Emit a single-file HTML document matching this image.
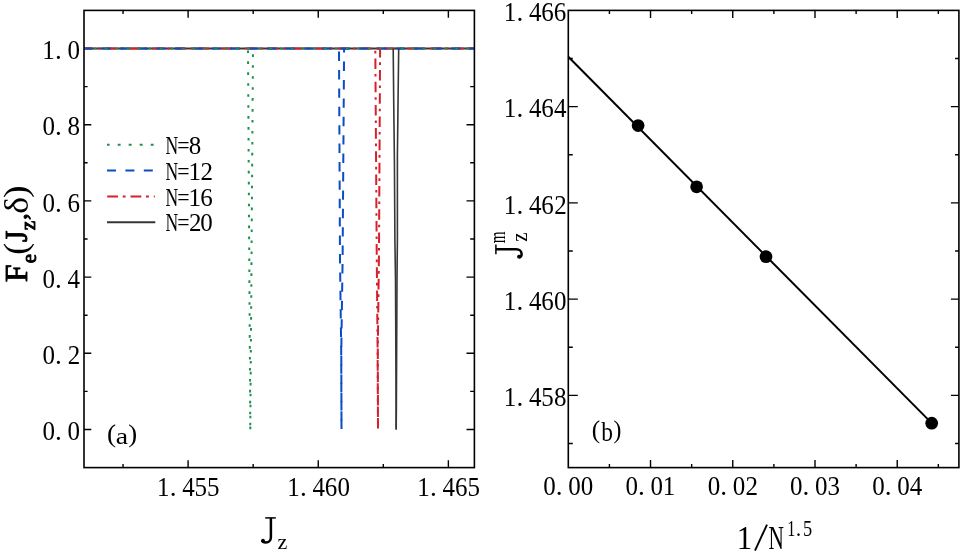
<!DOCTYPE html>
<html><head><meta charset="utf-8"><style>
html,body{margin:0;padding:0;background:#fff;}
svg{display:block;will-change:transform;}
text{font-family:"Liberation Serif",serif;fill:#000;}
</style></head><body>
<svg width="963" height="556" viewBox="0 0 963 556">
<rect width="963" height="556" fill="#fff"/>
<path d="M188.11,467.6v-7.3M188.11,10.4v7.3M318.24,467.6v-7.3M318.24,10.4v7.3M448.37,467.6v-7.3M448.37,10.4v7.3M123.04,467.6v-3.5M123.04,10.4v3.5M253.17,467.6v-3.5M253.17,10.4v3.5M383.31,467.6v-3.5M383.31,10.4v3.5M84.0,429.50h7.3M84.0,353.30h7.3M84.0,277.10h7.3M84.0,200.90h7.3M84.0,124.70h7.3M84.0,48.50h7.3M84.0,391.40h3.6M84.0,315.20h3.6M84.0,239.00h3.6M84.0,162.80h3.6M84.0,86.60h3.6M474.4,429.50h-7.9M474.4,353.30h-7.9M474.4,277.10h-7.9M474.4,200.90h-7.9M474.4,124.70h-7.9M474.4,48.50h-7.9M474.4,391.40h-4.2M474.4,315.20h-4.2M474.4,239.00h-4.2M474.4,162.80h-4.2M474.4,86.60h-4.2" stroke="#000" stroke-width="1.4" fill="none"/>
<path d="M84.0,48.50H474.4" fill="none" stroke="#363636" stroke-width="2.0"/>
<path d="M84.0,48.50H474.4" fill="none" stroke="#d6202c" stroke-width="2.0" stroke-dasharray="10.6 4.9 2.6 5.1" stroke-dashoffset="1.5"/>
<path d="M84.0,48.50H474.4" fill="none" stroke="#0a4cc6" stroke-width="2.0" stroke-dasharray="9.4 9.0" stroke-dashoffset="1.0"/>
<path d="M84.0,48.50H474.4" fill="none" stroke="#1e9050" stroke-width="2.0" stroke-dasharray="2.6 8.35" stroke-dashoffset="0.95"/>
<path d="M393.20,48.50 L393.70,100.00 L394.40,160.00 L394.90,240.00 L395.50,279.00 L396.10,401.00 L396.20,429.50" fill="none" stroke="#363636" stroke-width="1.6"/>
<path d="M398.70,48.50 L398.10,97.00 L397.40,156.00 L397.40,240.00 L397.00,279.00 L396.40,401.00 L396.20,429.50" fill="none" stroke="#363636" stroke-width="1.6"/>
<path d="M375.30,48.50 L376.70,250.00 L377.60,350.00 L378.00,429.50" fill="none" stroke="#d6202c" stroke-width="2.0" stroke-dasharray="10.6 4.9 2.6 5.1" stroke-dashoffset="13.2"/>
<path d="M380.10,48.50 L379.00,250.00 L377.80,350.00 L378.00,429.50" fill="none" stroke="#d6202c" stroke-width="2.0" stroke-dasharray="10.6 4.9 2.6 5.1" stroke-dashoffset="-21.5"/>
<path d="M339.00,48.50 L340.00,260.00 L341.20,350.00 L341.50,429.50" fill="none" stroke="#0a4cc6" stroke-width="2.0" stroke-dasharray="9.4 9.0" stroke-dashoffset="-3.1"/>
<path d="M344.10,48.50 L342.60,260.00 L341.30,350.00 L341.50,429.50" fill="none" stroke="#0a4cc6" stroke-width="2.0" stroke-dasharray="9.4 9.0" stroke-dashoffset="-13.1"/>
<path d="M248.00,48.50 L250.30,429.50" fill="none" stroke="#1e9050" stroke-width="2.0" stroke-dasharray="2.6 8.35" stroke-dashoffset="-1.9"/>
<path d="M253.00,48.50 L250.30,429.50" fill="none" stroke="#1e9050" stroke-width="2.0" stroke-dasharray="2.6 8.35" stroke-dashoffset="-5.8"/>
<rect x="84.0" y="10.4" width="390.40" height="457.20" fill="none" stroke="#000" stroke-width="1.6"/>
<path d="M107.0,144.8H154.8" fill="none" stroke="#1e9050" stroke-width="2.0" stroke-dasharray="2.9 8.1" stroke-dashoffset="0.3"/>
<path d="M107.0,170.5H154.8" fill="none" stroke="#0a4cc6" stroke-width="2.0" stroke-dasharray="9 9.4" stroke-dashoffset="0"/>
<path d="M107.0,196.4H154.8" fill="none" stroke="#d6202c" stroke-width="2.0" stroke-dasharray="10.8 4.7 2.9 4.9" stroke-dashoffset="-0.2"/>
<path d="M107.0,222.2H155.3" fill="none" stroke="#363636" stroke-width="2.0"/>
<text transform="translate(165.45,153.70) scale(0.690,1)" font-size="25.50">N</text>
<text transform="translate(177.25,153.70) scale(0.860,1)" font-size="25.50">=</text>
<text transform="translate(188.75,153.70) scale(0.980,1)" font-size="25.50">8</text>
<text transform="translate(165.45,179.60) scale(0.690,1)" font-size="25.50">N</text>
<text transform="translate(177.25,179.60) scale(0.860,1)" font-size="25.50">=</text>
<text transform="translate(188.40,179.60) scale(0.980,1)" font-size="25.50">1</text>
<text transform="translate(200.49,179.60) scale(0.980,1)" font-size="25.50">2</text>
<text transform="translate(165.45,205.50) scale(0.690,1)" font-size="25.50">N</text>
<text transform="translate(177.25,205.50) scale(0.860,1)" font-size="25.50">=</text>
<text transform="translate(188.40,205.50) scale(0.980,1)" font-size="25.50">1</text>
<text transform="translate(200.19,205.50) scale(0.980,1)" font-size="25.50">6</text>
<text transform="translate(165.45,231.40) scale(0.690,1)" font-size="25.50">N</text>
<text transform="translate(177.25,231.40) scale(0.860,1)" font-size="25.50">=</text>
<text transform="translate(188.89,231.40) scale(0.980,1)" font-size="25.50">2</text>
<text transform="translate(200.35,231.40) scale(0.980,1)" font-size="25.50">0</text>
<text transform="translate(107.00,441.89) scale(1.093,1)" font-size="24.92">(</text>
<text transform="translate(115.73,444.47) scale(1.191,1)" font-size="23.38">a</text>
<text transform="translate(128.14,441.89) scale(1.077,1)" font-size="24.92">)</text>
<text transform="translate(42.59,440.10) scale(0.920,1)" font-size="27.20">0</text><text transform="translate(55.00,440.10)" font-size="27.20">.</text><text transform="translate(67.59,440.10) scale(0.920,1)" font-size="27.20">0</text>
<text transform="translate(42.59,363.90) scale(0.920,1)" font-size="27.20">0</text><text transform="translate(55.00,363.90)" font-size="27.20">.</text><text transform="translate(67.73,363.90) scale(0.920,1)" font-size="27.20">2</text>
<text transform="translate(42.59,287.70) scale(0.920,1)" font-size="27.20">0</text><text transform="translate(55.00,287.70)" font-size="27.20">.</text><text transform="translate(67.54,287.70) scale(0.920,1)" font-size="27.20">4</text>
<text transform="translate(42.59,211.50) scale(0.920,1)" font-size="27.20">0</text><text transform="translate(55.00,211.50)" font-size="27.20">.</text><text transform="translate(67.43,211.50) scale(0.920,1)" font-size="27.20">6</text>
<text transform="translate(42.59,135.30) scale(0.920,1)" font-size="27.20">0</text><text transform="translate(55.00,135.30)" font-size="27.20">.</text><text transform="translate(67.59,135.30) scale(0.920,1)" font-size="27.20">8</text>
<text transform="translate(42.24,59.10) scale(0.920,1)" font-size="27.20">1</text><text transform="translate(55.00,59.10)" font-size="27.20">.</text><text transform="translate(67.59,59.10) scale(0.920,1)" font-size="27.20">0</text>
<text transform="translate(157.00,496.30) scale(0.920,1)" font-size="27.20">1</text><text transform="translate(169.76,496.30)" font-size="27.20">.</text><text transform="translate(182.30,496.30) scale(0.920,1)" font-size="27.20">4</text><text transform="translate(194.61,496.30) scale(0.920,1)" font-size="27.20">5</text><text transform="translate(207.11,496.30) scale(0.920,1)" font-size="27.20">5</text>
<text transform="translate(287.13,496.30) scale(0.920,1)" font-size="27.20">1</text><text transform="translate(299.89,496.30)" font-size="27.20">.</text><text transform="translate(312.43,496.30) scale(0.920,1)" font-size="27.20">4</text><text transform="translate(324.82,496.30) scale(0.920,1)" font-size="27.20">6</text><text transform="translate(337.48,496.30) scale(0.920,1)" font-size="27.20">0</text>
<text transform="translate(417.27,496.30) scale(0.920,1)" font-size="27.20">1</text><text transform="translate(430.03,496.30)" font-size="27.20">.</text><text transform="translate(442.57,496.30) scale(0.920,1)" font-size="27.20">4</text><text transform="translate(454.95,496.30) scale(0.920,1)" font-size="27.20">6</text><text transform="translate(467.38,496.30) scale(0.920,1)" font-size="27.20">5</text>
<path d="M265.2,517.9H275.8" stroke="#000" stroke-width="1.5" fill="none"/>
<path d="M270.9,517.9V537.2C270.9,540.6 268.6,542.4 265.9,542.4C263.6,542.4 262.3,541.4 262.1,540.2" stroke="#000" stroke-width="2.5" fill="none"/>
<circle cx="263.0" cy="540.6" r="1.9" fill="#000"/>
<text transform="translate(277.40,548.60) scale(1.057,1)" font-size="20.92">z</text>
<g transform="translate(27,281.8) rotate(-90)"><text transform="translate(-0.49,-0.45)" font-size="32.37" stroke="#000" stroke-width="0.9" stroke-linejoin="round">F</text><text transform="translate(18.54,9.04) scale(1.011,1)" font-size="20.58" stroke="#000" stroke-width="0.9" stroke-linejoin="round">e</text><text transform="translate(27.02,0.03) scale(1.093,1)" font-size="32.75">(</text><text transform="translate(39.73,-0.37) scale(0.926,1)" font-size="31.73" stroke="#000" stroke-width="0.9" stroke-linejoin="round">J</text><text transform="translate(51.47,8.15) scale(1.053,1)" font-size="20.26" stroke="#000" stroke-width="0.9" stroke-linejoin="round">z</text><text transform="translate(61.83,-0.29) scale(1.078,1)" font-size="24.90" stroke="#000" stroke-width="0.9" stroke-linejoin="round">,</text><text transform="translate(68.05,0.96) scale(1.052,1)" font-size="33.85">δ</text><text transform="translate(83.89,0.03) scale(1.153,1)" font-size="32.75">)</text></g>
<path d="M650.53,467.6v-7.5M650.53,10.4v7.5M732.76,467.6v-7.5M732.76,10.4v7.5M814.99,467.6v-7.5M814.99,10.4v7.5M897.23,467.6v-7.5M897.23,10.4v7.5M609.42,467.6v-3.7M609.42,10.4v3.7M691.65,467.6v-3.7M691.65,10.4v3.7M773.88,467.6v-3.7M773.88,10.4v3.7M856.11,467.6v-3.7M856.11,10.4v3.7M938.34,467.6v-3.7M938.34,10.4v3.7M568.3,395.41h9.5M568.3,299.16h9.5M568.3,202.91h9.5M568.3,106.65h9.5M568.3,443.54h4.5M568.3,347.28h4.5M568.3,251.03h4.5M568.3,154.78h4.5M568.3,58.53h4.5M958.9,395.41h-8.0M958.9,299.16h-8.0M958.9,202.91h-8.0M958.9,106.65h-8.0M958.9,443.54h-3.8M958.9,347.28h-3.8M958.9,251.03h-3.8M958.9,154.78h-3.8M958.9,58.53h-3.8" stroke="#000" stroke-width="1.4" fill="none"/>
<path d="M568.3,56.8 L931.7,423.1" stroke="#000" stroke-width="2" fill="none"/>
<rect x="568.3" y="10.4" width="390.60" height="457.20" fill="none" stroke="#000" stroke-width="1.6"/>
<circle cx="638.1" cy="125.6" r="6.35" fill="#000"/>
<circle cx="696.6" cy="186.8" r="6.35" fill="#000"/>
<circle cx="766.0" cy="256.7" r="6.35" fill="#000"/>
<circle cx="931.7" cy="423.2" r="6.35" fill="#000"/>
<text transform="translate(591.79,438.49) scale(1.015,1)" font-size="24.92">(</text>
<text transform="translate(601.20,441.24) scale(0.885,1)" font-size="26.42">b</text>
<text transform="translate(613.44,438.49) scale(0.953,1)" font-size="24.92">)</text>
<text transform="translate(503.64,406.01) scale(0.920,1)" font-size="27.20">1</text><text transform="translate(516.40,406.01)" font-size="27.20">.</text><text transform="translate(528.94,406.01) scale(0.920,1)" font-size="27.20">4</text><text transform="translate(541.26,406.01) scale(0.920,1)" font-size="27.20">5</text><text transform="translate(553.99,406.01) scale(0.920,1)" font-size="27.20">8</text>
<text transform="translate(503.64,309.76) scale(0.920,1)" font-size="27.20">1</text><text transform="translate(516.40,309.76)" font-size="27.20">.</text><text transform="translate(528.94,309.76) scale(0.920,1)" font-size="27.20">4</text><text transform="translate(541.33,309.76) scale(0.920,1)" font-size="27.20">6</text><text transform="translate(553.99,309.76) scale(0.920,1)" font-size="27.20">0</text>
<text transform="translate(503.64,213.51) scale(0.920,1)" font-size="27.20">1</text><text transform="translate(516.40,213.51)" font-size="27.20">.</text><text transform="translate(528.94,213.51) scale(0.920,1)" font-size="27.20">4</text><text transform="translate(541.33,213.51) scale(0.920,1)" font-size="27.20">6</text><text transform="translate(554.13,213.51) scale(0.920,1)" font-size="27.20">2</text>
<text transform="translate(503.64,117.25) scale(0.920,1)" font-size="27.20">1</text><text transform="translate(516.40,117.25)" font-size="27.20">.</text><text transform="translate(528.94,117.25) scale(0.920,1)" font-size="27.20">4</text><text transform="translate(541.33,117.25) scale(0.920,1)" font-size="27.20">6</text><text transform="translate(553.94,117.25) scale(0.920,1)" font-size="27.20">4</text>
<text transform="translate(503.64,21.00) scale(0.920,1)" font-size="27.20">1</text><text transform="translate(516.40,21.00)" font-size="27.20">.</text><text transform="translate(528.94,21.00) scale(0.920,1)" font-size="27.20">4</text><text transform="translate(541.33,21.00) scale(0.920,1)" font-size="27.20">6</text><text transform="translate(553.83,21.00) scale(0.920,1)" font-size="27.20">6</text>
<text transform="translate(543.29,495.30) scale(0.920,1)" font-size="27.20">0</text><text transform="translate(555.70,495.30)" font-size="27.20">.</text><text transform="translate(568.29,495.30) scale(0.920,1)" font-size="27.20">0</text><text transform="translate(580.79,495.30) scale(0.920,1)" font-size="27.20">0</text>
<text transform="translate(625.53,495.30) scale(0.920,1)" font-size="27.20">0</text><text transform="translate(637.94,495.30)" font-size="27.20">.</text><text transform="translate(650.53,495.30) scale(0.920,1)" font-size="27.20">0</text><text transform="translate(662.68,495.30) scale(0.920,1)" font-size="27.20">1</text>
<text transform="translate(707.76,495.30) scale(0.920,1)" font-size="27.20">0</text><text transform="translate(720.17,495.30)" font-size="27.20">.</text><text transform="translate(732.76,495.30) scale(0.920,1)" font-size="27.20">0</text><text transform="translate(745.39,495.30) scale(0.920,1)" font-size="27.20">2</text>
<text transform="translate(789.99,495.30) scale(0.920,1)" font-size="27.20">0</text><text transform="translate(802.40,495.30)" font-size="27.20">.</text><text transform="translate(814.99,495.30) scale(0.920,1)" font-size="27.20">0</text><text transform="translate(827.38,495.30) scale(0.920,1)" font-size="27.20">3</text>
<text transform="translate(872.22,495.30) scale(0.920,1)" font-size="27.20">0</text><text transform="translate(884.63,495.30)" font-size="27.20">.</text><text transform="translate(897.22,495.30) scale(0.920,1)" font-size="27.20">0</text><text transform="translate(909.67,495.30) scale(0.920,1)" font-size="27.20">4</text>
<text transform="translate(736.67,548.60) scale(0.892,1)" font-size="34.70">1</text>
<path d="M755.0,550.6L767.0,524.6" stroke="#000" stroke-width="1.9" fill="none"/>
<text transform="translate(768.48,548.60) scale(0.627,1)" font-size="34.05">N</text>
<text transform="translate(787.18,536.00) scale(0.694,1)" font-size="23.33">1</text>
<text transform="translate(795.75,535.67) scale(0.929,1)" font-size="23.73">.</text>
<text transform="translate(802.93,535.97) scale(0.783,1)" font-size="23.46">5</text>
<path d="M495.9,244.4V254.3" stroke="#000" stroke-width="1.5" fill="none"/>
<path d="M495.9,249.3H516.3C519.6,249.3 521.6,251.4 521.6,254.0C521.6,256.2 520.4,257.4 519.0,257.6" stroke="#000" stroke-width="2.5" fill="none"/>
<circle cx="519.0" cy="256.7" r="1.9" fill="#000"/>
<g transform="translate(520,258.3) rotate(-90)"><text transform="translate(16.44,6.90) scale(0.910,1)" font-size="22.88">z</text><text transform="translate(15.08,-15.00) scale(0.691,1)" font-size="22.08">m</text></g>
</svg></body></html>
